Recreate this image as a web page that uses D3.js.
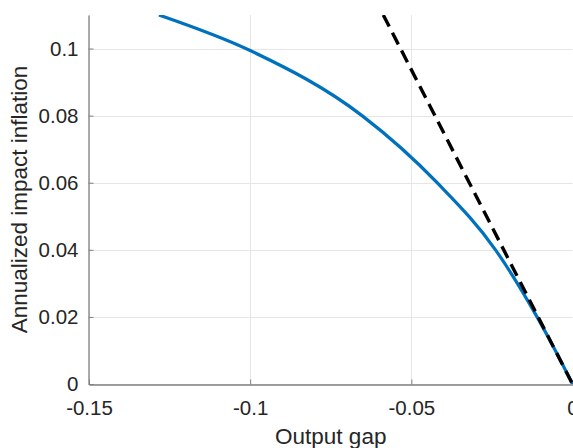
<!DOCTYPE html>
<html>
<head>
<meta charset="utf-8">
<script src="https://cdn.jsdelivr.net/npm/d3@7"></script>
<style>
  body { margin: 0; background: #fff; }
  text { font-family: "Liberation Sans", Arial, sans-serif; }
</style>
</head>
<body>
<div id="chart"></div>
<script>
// values (mostly where the curve crosses the grid)
var gapValues = [-0.1283, -0.1, -0.0653, -0.042, -0.0239, -0.011, -0.005, 0]
var inflValues = [0.110, 0.0994, 0.0800, 0.0600, 0.0400, 0.0200, 0.0094, 0]
var tangentGap = [-0.0587, 0]
var tangentInfl = [0.110, 0]

var xTicks = [-0.15, -0.1, -0.05, 0]
var xTickLabels = ["-0.15", "-0.1", "-0.05", "0"]
var yTicks = [0, 0.02, 0.04, 0.06, 0.08, 0.1]
var yTickLabels = ["0", "0.02", "0.04", "0.06", "0.08", "0.1"]

var width = 573, height = 448
// note: "top" is a reserved window property, so use plot* names
var plotLeft = 89, plotRight = 572.5, plotTop = 15, plotBottom = 384

let svg = d3.select("#chart")
  .append("svg")
  .attr("width", width)
  .attr("height", height)

let x = d3.scaleLinear().domain([-0.15, 0]).range([plotLeft, plotRight])
let y = d3.scaleLinear().domain([0, 0.11]).range([plotBottom, plotTop])

svg.append("defs").append("clipPath")
  .attr("id", "plotclip")
  .append("rect")
  .attr("x", plotLeft).attr("y", plotTop)
  .attr("width", plotRight - plotLeft + 2).attr("height", plotBottom - plotTop)

// grid
svg.append("g")
  .selectAll("line")
  .data(xTicks)
  .enter()
  .append("line")
  .attr("x1", d => Math.round(x(d)) + 0.5).attr("x2", d => Math.round(x(d)) + 0.5)
  .attr("y1", plotTop).attr("y2", plotBottom)
  .attr("stroke", "#e6e6e6")
  .attr("stroke-width", 1)

svg.append("g")
  .selectAll("line")
  .data(yTicks)
  .enter()
  .append("line")
  .attr("x1", plotLeft).attr("x2", plotRight)
  .attr("y1", d => Math.round(y(d)) + 0.5).attr("y2", d => Math.round(y(d)) + 0.5)
  .attr("stroke", "#e6e6e6")
  .attr("stroke-width", 1)

// axes
let xAxis = d3.axisBottom(x)
  .tickValues(xTicks)
  .tickFormat((d, i) => xTickLabels[i])
  .tickSizeInner(-5)
  .tickSizeOuter(0)
  .tickPadding(16)

let yAxis = d3.axisLeft(y)
  .tickValues(yTicks)
  .tickFormat((d, i) => yTickLabels[i])
  .tickSizeInner(-5)
  .tickSizeOuter(0)
  .tickPadding(10)

let gx = svg.append("g")
  .attr("transform", `translate(0, ${plotBottom + 0.5})`)
  .call(xAxis)
let gy = svg.append("g")
  .attr("transform", `translate(${plotLeft - 0.5}, 0)`)
  .call(yAxis)

;[gx, gy].forEach(function(g) {
  g.select(".domain").attr("stroke", "#808080").attr("stroke-width", 1.3)
  g.selectAll(".tick line").attr("stroke", "#808080").attr("stroke-width", 1)
  g.selectAll(".tick text")
    .attr("fill", "#262626")
    .style("font-size", "20.5px")
    .style("font-family", "'Liberation Sans', Arial, sans-serif")
})

// labels
svg.append("text")
  .attr("x", (plotLeft + plotRight) / 2)
  .attr("y", 444)
  .attr("text-anchor", "middle")
  .attr("fill", "#262626")
  .style("font-size", "22.5px")
  .text("Output gap")

svg.append("text")
  .attr("transform", `translate(27, ${(plotTop + plotBottom) / 2}) rotate(-90)`)
  .attr("text-anchor", "middle")
  .attr("fill", "#262626")
  .style("font-size", "22.5px")
  .text("Annualized impact inflation")

// lines
let plot = svg.append("g").attr("clip-path", "url(#plotclip)")

let curve = d3.line()
  .x(d => x(d[0]))
  .y(d => y(d[1]))
  .curve(d3.curveMonotoneX)

plot.append("path")
  .datum(gapValues.map((g, i) => [g, inflValues[i]]))
  .attr("d", curve)
  .attr("fill", "none")
  .attr("stroke", "#0072BD")
  .attr("stroke-width", 3.2)

let straight = d3.line()
  .x(d => x(d[0]))
  .y(d => y(d[1]))

plot.append("path")
  .datum(tangentGap.map((g, i) => [g, tangentInfl[i]]))
  .attr("d", straight)
  .attr("fill", "none")
  .attr("stroke", "#000")
  .attr("stroke-width", 3.4)
  .attr("stroke-dasharray", "13,7")
</script>
</body>
</html>
